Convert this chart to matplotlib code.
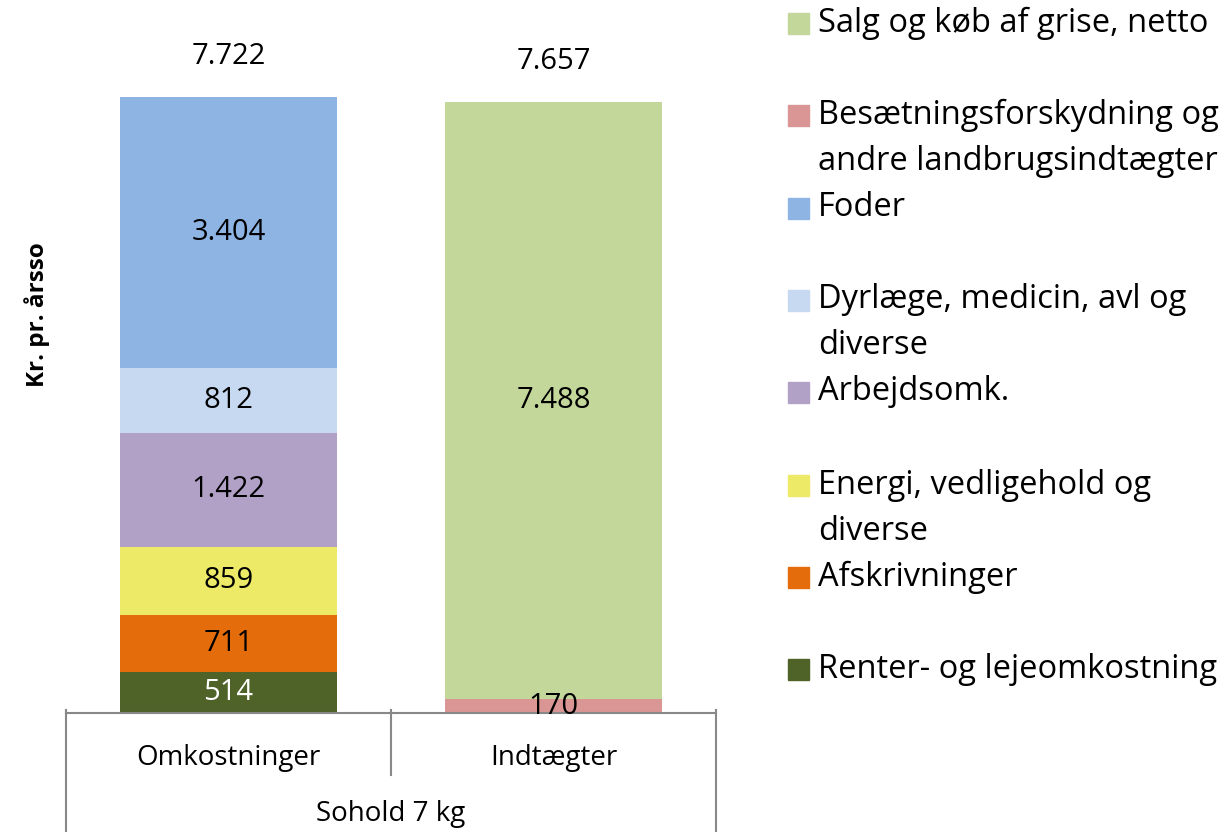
import matplotlib
matplotlib.use('Agg')
import matplotlib.pyplot as plt
from matplotlib.patches import Rectangle

plt.rcParams['font.family'] = ['Open Sans', 'DejaVu Sans']

categories = ['Omkostninger', 'Indtægter']
group_label = 'Sohold 7 kg'
series = ['Renter- og lejeomkostning', 'Afskrivninger', 'Energi, vedligehold og diverse',
          'Arbejdsomk.', 'Dyrlæge, medicin, avl og diverse', 'Foder',
          'Besætningsforskydning og andre landbrugsindtægter', 'Salg og køb af grise, netto']
omkostninger = [514, 711, 859, 1422, 812, 3404, 0, 0]
indtaegter = [0, 0, 0, 0, 0, 0, 170, 7488]
totals = ['7.722', '7.657']
colors = ['#4F6228', '#E46C0A', '#EDEA68', '#B2A1C7', '#C6D9F1', '#8EB4E3', '#D99694', '#C4D79B']
label_colors = ['white', 'black', 'black', 'black', 'black', 'black', 'black', 'black']

W, H = 1223, 832
fig = plt.figure(figsize=(W / 100, H / 100), dpi=100)
ax = fig.add_axes([66 / W, 1 - 713 / H, 650 / W, 683 / H])

fs = 21      # data labels
fs_cat = 20  # category labels
fs_leg = 23.5
x = [0, 1]
bottoms = [0, 0]
for i, name in enumerate(series):
    vals = [omkostninger[i], indtaegter[i]]
    ax.bar(x, vals, width=0.67, bottom=bottoms, color=colors[i], label=name)
    for j in range(2):
        if vals[j] > 0:
            ax.text(x[j], bottoms[j] + vals[j] / 2, f'{vals[j]:,}'.replace(',', '.'),
                    ha='center', va='center', fontsize=fs, color=label_colors[i])
    bottoms = [bottoms[0] + vals[0], bottoms[1] + vals[1]]

for j in range(2):
    ax.annotate(totals[j], (x[j], bottoms[j]), xytext=(0, 29), textcoords='offset points',
                ha='center', va='center', fontsize=fs)

ax.set_xlim(-0.5, 1.5)
ax.set_ylim(0, 8560)
ax.set_yticks([])
for s in ['top', 'left', 'right']:
    ax.spines[s].set_visible(False)
ax.spines['bottom'].set_color('#888888')
ax.spines['bottom'].set_linewidth(1.5)
ax.set_xticks(x)
ax.set_xticklabels(categories, fontsize=fs_cat)
ax.tick_params(axis='x', length=0, pad=22)

# category axis box lines
tr = ax.get_xaxis_transform()
low = -(H - 713) / 683
mid = -(775 - 713) / 683
for xv, yb in [(-0.5, low), (0.5, mid), (1.5, low)]:
    ax.plot([xv, xv], [0.004, yb], color='#888888', lw=1.5, transform=tr, clip_on=False)
ax.text(0.5, -(814 - 713) / 683, group_label, transform=tr, ha='center', va='center', fontsize=fs_cat)

ax.set_ylabel('Kr. pr. årsso', fontsize=17.5, fontweight='bold')
ax.yaxis.set_label_coords(-(66 - 50) / 650, (713 - 315) / 683)

# legend, laid out like the original
legend_lines = [
    (7, ['Salg og køb af grise, netto'], 23),
    (6, ['Besætningsforskydning og', 'andre landbrugsindtægter'], 115),
    (5, ['Foder'], 208),
    (4, ['Dyrlæge, medicin, avl og', 'diverse'], 300),
    (3, ['Arbejdsomk.'], 392),
    (2, ['Energi, vedligehold og', 'diverse'], 485),
    (1, ['Afskrivninger'], 577),
    (0, ['Renter- og lejeomkostning'], 669),
]
for idx, lines, yc in legend_lines:
    fig.add_artist(Rectangle((788 / W, 1 - (yc + 10.5) / H), 21 / W, 21 / H,
                             color=colors[idx], transform=fig.transFigure))
    for k, line in enumerate(lines):
        fig.text(818 / W, 1 - (yc + k * 46) / H, line, ha='left', va='center', fontsize=fs_leg)

fig.savefig('out.png', dpi=100)
